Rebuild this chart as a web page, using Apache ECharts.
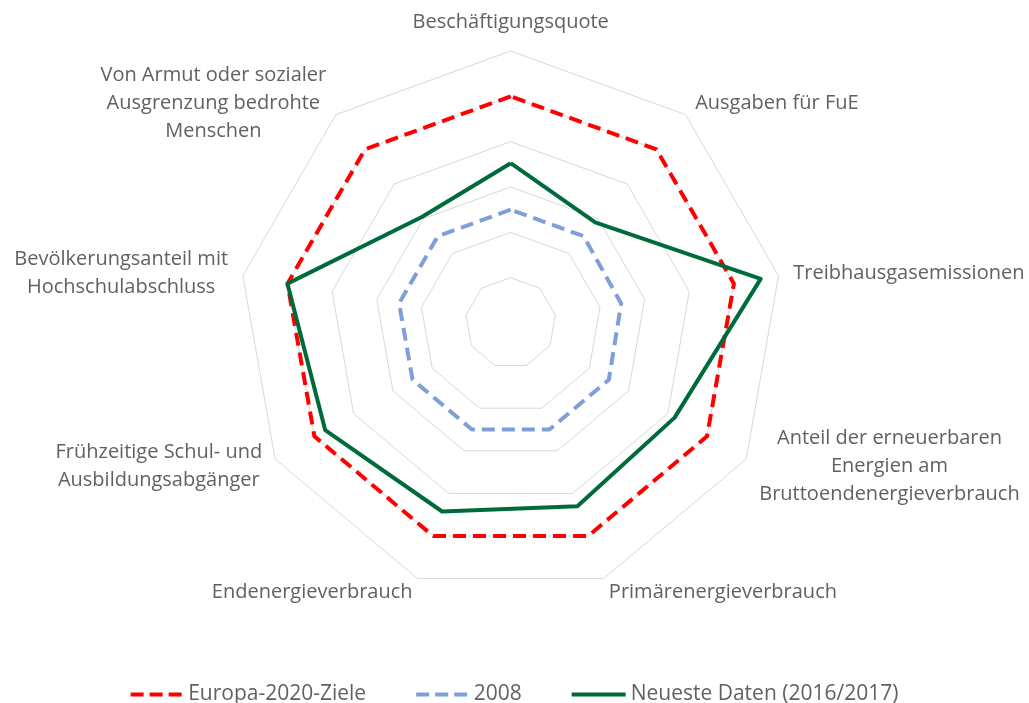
<!DOCTYPE html>
<html>
<head>
<meta charset="utf-8">
<script src="https://cdn.jsdelivr.net/npm/echarts@6/dist/echarts.min.js"></script>
<style>
html,body{margin:0;padding:0;background:#fff;}
#chart{width:1029px;height:703px;}
</style>
</head>
<body>
<div id="chart"></div>
<script>
// Indicators, listed counter-clockwise from the top (ECharts radar order)
const categories = [
  "Beschäftigungsquote",
  "Von Armut oder sozialer\nAusgrenzung bedrohte\nMenschen",
  "Bevölkerungsanteil mit\nHochschulabschluss",
  "Frühzeitige Schul- und\nAusbildungsabgänger",
  "Endenergieverbrauch",
  "Primärenergieverbrauch",
  "Anteil der erneuerbaren\nEnergien am\nBruttoendenergieverbrauch",
  "Treibhausgasemissionen",
  "Ausgaben für FuE"
];
const seriesNames = ["Europa-2020-Ziele", "2008", "Neueste Daten (2016/2017)"];
const ziele    = [100, 100, 100, 100, 100, 100, 100, 100, 100];
const y2008    = [50, 50, 50, 50, 50, 50, 50, 49.5, 50];
const neueste  = [70.5, 61, 100, 94.5, 88.5, 86, 83.5, 112, 58];
const axisMin = 0, axisMax = 120, axisSplits = 6;

const chart = echarts.init(document.getElementById('chart'), null, {renderer: 'canvas'});
const font = "'Open Sans', 'DejaVu Sans', sans-serif";
const textColor = '#616161';
const dashIcon = 'path://M0,0h13v4h-13z M19,0h13v4h-13z M38,0h13v4h-13z';
const solidIcon = 'path://M0,0h56v4h-56z';

chart.setOption({
  animation: false,
  backgroundColor: '#ffffff',
  legend: {
    top: 679,
    left: 'center',
    itemWidth: 54,
    itemHeight: 4,
    itemGap: 50,
    textStyle: {color: textColor, fontSize: 21, fontFamily: font},
    data: [
      {name: seriesNames[0], icon: dashIcon, itemStyle: {color: '#ff0000'}},
      {name: seriesNames[1], icon: dashIcon, itemStyle: {color: '#7f9fd8'}},
      {name: seriesNames[2], icon: solidIcon, itemStyle: {color: '#006b3a'}}
    ]
  },
  radar: {
    center: [510.7, 323],
    radius: 272,
    startAngle: 90,
    shape: 'polygon',
    splitNumber: axisSplits,
    nameGap: 15,
    indicator: categories.map(n => ({name: n, min: axisMin, max: axisMax})),
    axisLine: {show: false},
    axisTick: {show: false},
    axisLabel: {show: false},
    splitArea: {show: false},
    splitLine: {lineStyle: {color: '#d9d9d9', width: 1}},
    axisName: {
      color: textColor,
      fontSize: 20,
      fontFamily: font,
      lineHeight: 28,
      formatter: function (name) {
        return name.split('\n').map(l => '{c|' + l + '}').join('\n');
      },
      rich: {
        c: {align: 'center', color: textColor, fontSize: 20, fontFamily: font, lineHeight: 28}
      }
    }
  },
  series: [{
    type: 'radar',
    symbol: 'none',
    data: [
      {name: seriesNames[0], value: ziele,
       lineStyle: {color: '#ff0000', width: 4, type: [13, 7]}, itemStyle: {color: '#ff0000'}},
      {name: seriesNames[1], value: y2008,
       lineStyle: {color: '#7f9fd8', width: 4, type: [13, 7]}, itemStyle: {color: '#7f9fd8'}},
      {name: seriesNames[2], value: neueste,
       lineStyle: {color: '#006b3a', width: 4, type: 'solid'}, itemStyle: {color: '#006b3a'}}
    ]
  }]
});
</script>
</body>
</html>
